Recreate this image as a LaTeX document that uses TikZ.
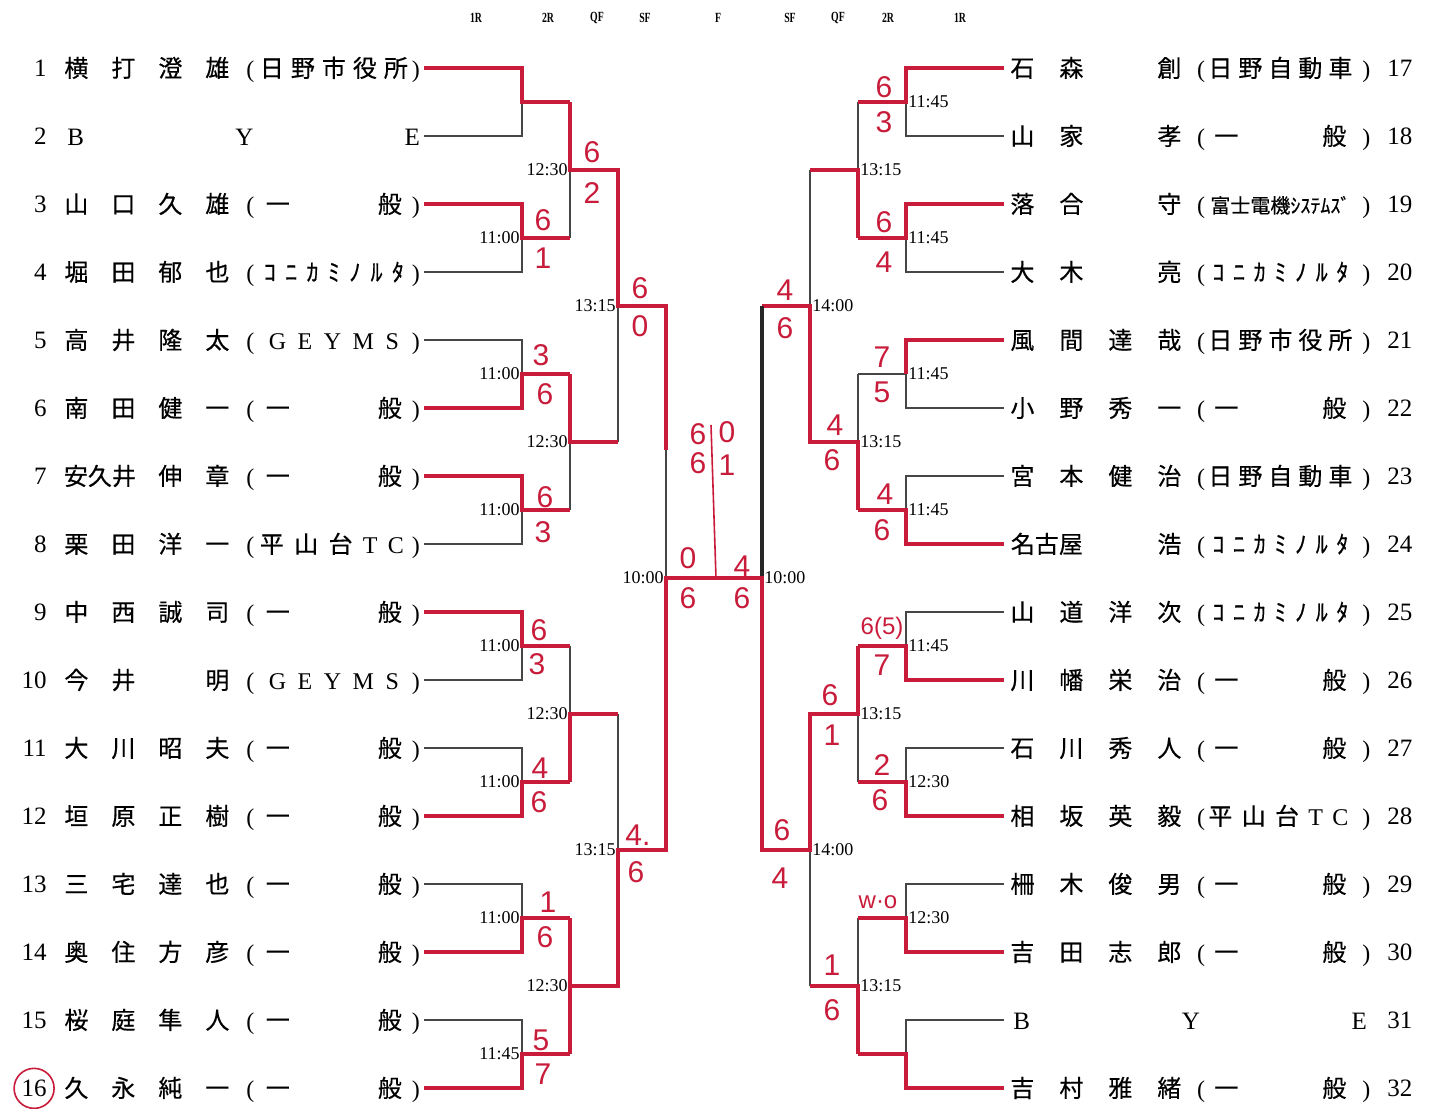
\documentclass[tikz,border=0pt]{standalone}
\usepackage{fontspec}
\setmainfont{Liberation Serif}
\newfontfamily\jpf[FakeBold=0.4]{Noto Sans CJK JP}
\newfontfamily\handf{Liberation Sans}
\definecolor{ink}{RGB}{200,28,58}
\definecolor{wirec}{RGB}{70,70,70}
% row builders (left / right)
\newcommand\Lrow[5]{\makebox[23.5pt]{#1}\makebox[23.5pt]{#2}\makebox[23.5pt]{#3}\makebox[23.5pt]{#4}\makebox[9.5pt]{\rmfamily(}\makebox[74pt][s]{#5}\makebox[8pt]{\rmfamily)}}
\newcommand\LrowW[4]{\makebox[47pt]{#1}\makebox[23.5pt]{#2}\makebox[23.5pt]{#3}\makebox[9.5pt]{\rmfamily(}\makebox[74pt][s]{#4}\makebox[8pt]{\rmfamily)}}
\newcommand\Rrow[5]{\makebox[24.5pt]{#1}\makebox[24.5pt]{#2}\makebox[24.5pt]{#3}\makebox[24.5pt]{#4}\makebox[7.25pt]{\rmfamily(}\makebox[72pt][s]{#5}\makebox[14pt]{\rmfamily)}}
\newcommand\RrowW[4]{\makebox[49pt]{#1}\makebox[24.5pt]{#2}\makebox[24.5pt]{#3}\makebox[7.25pt]{\rmfamily(}\makebox[72pt][s]{#4}\makebox[14pt]{\rmfamily)}}
% affiliations
\newcommand\ippan{\hspace{3pt}一\hfill 般\hspace{3pt}}
\newcommand\geyms{\hspace{4.5pt}{\rmfamily G\hfill E\hfill Y\hfill M\hfill S}\hspace{4.5pt}}
\newcommand\konica{\hspace{2pt}ｺ\hfill ﾆ\hfill ｶ\hfill ﾐ\hfill ﾉ\hfill ﾙ\hfill ﾀ\hspace{2pt}}
\newcommand\hino{日\hfill 野\hfill 市\hfill 役\hfill 所}
\newcommand\hinoj{日\hfill 野\hfill 自\hfill 動\hfill 車}
\newcommand\hira{平\hfill 山\hfill 台\hfill {\rmfamily T}\hfill {\rmfamily C}\hspace{2pt}}
\newcommand\fuji{\hfill{\fontsize{10}{10}\selectfont 富士電機ｼｽﾃﾑｽﾞ}\hfill}
\begin{document}
\begin{tikzpicture}[x=0.5pt,y=-0.5pt,
  wire/.style={draw=wirec,line width=0.6pt},
  win/.style={draw=ink,line width=1.7pt},
  blackthick/.style={draw=black!85,line width=2.4pt},
  inkthin/.style={draw=ink,line width=0.8pt},
  rowtext/.style={font=\jpf\fontsize{12}{14}\selectfont,inner sep=0pt,anchor=base west},
  numl/.style={font=\fontsize{12.5}{14}\selectfont,inner sep=0pt,anchor=base east},
  numr/.style={font=\fontsize{12.5}{14}\selectfont,inner sep=0pt,anchor=base west},
  timel/.style={font=\fontsize{9}{10}\selectfont,inner sep=1pt,anchor=east},
  timer/.style={font=\fontsize{9}{10}\selectfont,inner sep=1pt,anchor=west},
  score/.style={font=\handf\fontsize{15}{17}\selectfont,text=ink,inner sep=0pt},
  smallscore/.style={font=\handf\fontsize{12}{14}\selectfont,text=ink,inner sep=0pt},
  head/.style={font=\bfseries\fontsize{7}{8}\selectfont,inner sep=0pt}]
\fill[white] (0,0) rectangle (1431,1109);
\useasboundingbox (0,0) rectangle (1431,1109);

% ---------- coordinates ----------
\foreach \i in {1,...,16}{
  \pgfmathsetmacro\yy{68*\i}
  \coordinate (L0-\i) at (424,\yy);
  \coordinate (R0-\i) at (1004,\yy);
}
\foreach \k in {1,...,8}{
  \pgfmathsetmacro\yy{136*\k-34}
  \coordinate (LA-\k) at (522,\yy); \coordinate (LB-\k) at (570,\yy);
  \coordinate (RA-\k) at (906,\yy); \coordinate (RB-\k) at (858,\yy);
}
\foreach \m in {1,...,4}{
  \pgfmathsetmacro\yy{272*\m-102}
  \coordinate (LC-\m) at (570,\yy); \coordinate (LD-\m) at (618,\yy);
  \coordinate (RC-\m) at (858,\yy); \coordinate (RD-\m) at (810,\yy);
}
\foreach \n in {1,2}{
  \pgfmathsetmacro\yy{544*\n-238}
  \coordinate (LE-\n) at (618,\yy); \coordinate (LF-\n) at (666,\yy);
  \coordinate (RE-\n) at (810,\yy); \coordinate (RF-\n) at (762,\yy);
}
\coordinate (LG) at (666,578);
\coordinate (RG) at (762,578);
\coordinate (C) at (714,578);
\coordinate (LFx) at (666,450);
\coordinate (Ct) at (711,425);
\coordinate (Cb) at (716,578);

% ---------- black bracket ----------
\foreach \k in {1,...,8}{
  \pgfmathtruncatemacro\a{2*\k-1}\pgfmathtruncatemacro\b{2*\k}
  \draw[wire] (L0-\a) -| (LA-\k) |- (L0-\b);
  \draw[wire] (LA-\k) -- (LB-\k);
  \draw[wire] (R0-\a) -| (RA-\k) |- (R0-\b);
  \draw[wire] (RA-\k) -- (RB-\k);
}
\foreach \m in {1,...,4}{
  \pgfmathtruncatemacro\a{2*\m-1}\pgfmathtruncatemacro\b{2*\m}
  \draw[wire] (LB-\a) -- (LB-\b);
  \draw[wire] (LC-\m) -- (LD-\m);
  \draw[wire] (RB-\a) -- (RB-\b);
  \draw[wire] (RC-\m) -- (RD-\m);
}
\foreach \n in {1,2}{
  \pgfmathtruncatemacro\a{2*\n-1}\pgfmathtruncatemacro\b{2*\n}
  \draw[wire] (LD-\a) -- (LD-\b);
  \draw[wire] (LE-\n) -- (LF-\n);
  \draw[wire] (RD-\a) -- (RD-\b);
  \draw[wire] (RE-\n) -- (RF-\n);
}
\draw[wire] (LF-1) -- (LF-2);
\draw[wire] (RF-1) -- (RF-2);
\draw[wire] (LG) -- (RG);

% ---------- red winner paths ----------
\foreach \w/\k in {1/1,3/2,6/3,7/4,9/5,12/6,14/7,16/8}{
  \draw[win] (L0-\w) -| (LA-\k) -- (LB-\k);
}
\foreach \w/\k in {1/1,3/2,8/4,10/5,12/6,14/7,16/8}{
  \draw[win] (R0-\w) -| (RA-\k) -- (RB-\k);
}
\draw[win] (R0-5) -| (RA-3);
\draw[win] (LB-1) -- (LC-1) -- (LD-1) -- (LE-1) -- (LF-1) -- (LFx);
\draw[win] (LB-3) -- (LC-2) -- (LD-2);
\draw[win] (LB-6) -- (LC-3) -- (LD-3);
\draw[win] (LB-7) -- (LB-8);
\draw[win] (LC-4) -- (LD-4) -- (LE-2) -- (LF-2) -- (LG) -- (C);
\draw[win] (RB-2) -- (RC-1) -- (RD-1);
\draw[win] (RB-4) -- (RC-2) -- (RD-2) -- (RE-1) -- (RF-1);
\draw[blackthick] (RF-1) -- (RG);
\draw[win] (RB-5) -- (RC-3) -- (RD-3) -- (RE-2) -- (RF-2) -- (RG) -- (C);
\draw[win] (RB-8) -- (RC-4) -- (RD-4);
\draw[inkthin] (Ct) -- (Cb);

% ---------- headers ----------
\foreach \hx/\hs [count=\n] in {476/1R,548/2R,597/QF,645/SF,718/F,790/SF,838/QF,888/2R,960/1R}{
  \node[head] (hd-\n) at (\hx,18) {\scalebox{0.7}[1]{\hs}};
}

% ---------- numbers ----------
\foreach \n/\t in {1/1,2/2,3/3,4/4,5/5,6/6,7/7,8/8,9/9,10/10,11/11,12/12,13/13,14/14,15/15,16/16}{
  \pgfmathsetmacro\yy{68*\n+8.5}
  \node[numl] (ln-\n) at (47,\yy) {\t};
}
\foreach \n/\t in {1/17,2/18,3/19,4/20,5/21,6/22,7/23,8/24,9/25,10/26,11/27,12/28,13/29,14/30,15/31,16/32}{
  \pgfmathsetmacro\yy{68*\n+8.5}
  \node[numr] (rn-\n) at (1387,\yy) {\t};
}
\draw[inkthin] (ln-16.center) circle [radius=20];

% ---------- left rows ----------
\node[rowtext] (lt-1) at (52.5,77) {\Lrow{横}{打}{澄}{雄}{\hino}};
\node[rowtext,font=\fontsize{12.5}{14}\selectfont] (lt-2) at (67,145) {\makebox[176.25pt][s]{B\hfill Y\hfill E}};
\node[rowtext] (lt-3) at (52.5,213) {\Lrow{山}{口}{久}{雄}{\ippan}};
\node[rowtext] (lt-4) at (52.5,281) {\Lrow{堀}{田}{郁}{也}{\konica}};
\node[rowtext] (lt-5) at (52.5,349) {\Lrow{高}{井}{隆}{太}{\geyms}};
\node[rowtext] (lt-6) at (52.5,417) {\Lrow{南}{田}{健}{一}{\ippan}};
\node[rowtext] (lt-7) at (52.5,485) {\LrowW{安久井}{伸}{章}{\ippan}};
\node[rowtext] (lt-8) at (52.5,553) {\Lrow{栗}{田}{洋}{一}{\hira}};
\node[rowtext] (lt-9) at (52.5,621) {\Lrow{中}{西}{誠}{司}{\ippan}};
\node[rowtext] (lt-10) at (52.5,689) {\Lrow{今}{井}{}{明}{\geyms}};
\node[rowtext] (lt-11) at (52.5,757) {\Lrow{大}{川}{昭}{夫}{\ippan}};
\node[rowtext] (lt-12) at (52.5,825) {\Lrow{垣}{原}{正}{樹}{\ippan}};
\node[rowtext] (lt-13) at (52.5,893) {\Lrow{三}{宅}{達}{也}{\ippan}};
\node[rowtext] (lt-14) at (52.5,961) {\Lrow{奥}{住}{方}{彦}{\ippan}};
\node[rowtext] (lt-15) at (52.5,1029) {\Lrow{桜}{庭}{隼}{人}{\ippan}};
\node[rowtext] (lt-16) at (52.5,1097) {\Lrow{久}{永}{純}{一}{\ippan}};

% ---------- right rows ----------
\node[rowtext] (rt-1) at (997.5,77) {\Rrow{石}{森}{}{創}{\hinoj}};
\node[rowtext] (rt-2) at (997.5,145) {\Rrow{山}{家}{}{孝}{\ippan}};
\node[rowtext] (rt-3) at (997.5,213) {\Rrow{落}{合}{}{守}{\fuji}};
\node[rowtext] (rt-4) at (997.5,281) {\Rrow{大}{木}{}{亮}{\konica}};
\node[rowtext] (rt-5) at (997.5,349) {\Rrow{風}{間}{達}{哉}{\hino}};
\node[rowtext] (rt-6) at (997.5,417) {\Rrow{小}{野}{秀}{一}{\ippan}};
\node[rowtext] (rt-7) at (997.5,485) {\Rrow{宮}{本}{健}{治}{\hinoj}};
\node[rowtext] (rt-8) at (997.5,553) {\RrowW{名古屋}{}{浩}{\konica}};
\node[rowtext] (rt-9) at (997.5,621) {\Rrow{山}{道}{洋}{次}{\konica}};
\node[rowtext] (rt-10) at (997.5,689) {\Rrow{川}{幡}{栄}{治}{\ippan}};
\node[rowtext] (rt-11) at (997.5,757) {\Rrow{石}{川}{秀}{人}{\ippan}};
\node[rowtext] (rt-12) at (997.5,825) {\Rrow{相}{坂}{英}{毅}{\hira}};
\node[rowtext] (rt-13) at (997.5,893) {\Rrow{柵}{木}{俊}{男}{\ippan}};
\node[rowtext] (rt-14) at (997.5,961) {\Rrow{吉}{田}{志}{郎}{\ippan}};
\node[rowtext,font=\fontsize{12.5}{14}\selectfont] (rt-15) at (1013,1029) {\makebox[176.75pt][s]{B\hfill Y\hfill E}};
\node[rowtext] (rt-16) at (997.5,1097) {\Rrow{吉}{村}{雅}{緒}{\ippan}};

% ---------- times ----------
\foreach \k/\t in {2/11:00,3/11:00,4/11:00,5/11:00,6/11:00,7/11:00,8/11:45}{
  \node[timel] (tla-\k) at (LA-\k) {\t};
}
\foreach \m in {1,...,4}{\node[timel] (tlc-\m) at (LC-\m) {12:30};}
\foreach \n in {1,2}{\node[timel] (tle-\n) at (LE-\n) {13:15};}
\node[timel] (tlg) at (LG) {10:00};
\foreach \k/\t in {1/11:45,2/11:45,3/11:45,4/11:45,5/11:45,6/12:30,7/12:30}{
  \node[timer] (tra-\k) at (RA-\k) {\t};
}
\foreach \m in {1,...,4}{\node[timer] (trc-\m) at (RC-\m) {13:15};}
\foreach \n in {1,2}{\node[timer] (tre-\n) at (RE-\n) {14:00};}
\node[timer] (trg) at (RG) {10:00};

% ---------- handwritten scores ----------
\foreach \px/\py/\t [count=\n] in {
  543/220/6, 543/258/1, 541/355/3, 545/394/6, 545/497/6, 543/532/3,
  539/630/6, 537/664/3, 540/768/4, 539/802/6, 548/902/1, 545/937/6,
  541/1040/5, 543/1074/7, 592/152/6, 592/193/2, 640/288/6, 640/326/0,
  638/835/4., 636/872/6, 688/558/0, 688/598/6, 742/566/4, 742/598/6,
  698/434/6, 698/463/6, 727/432/0, 727/465/1,
  884/87/6, 884/122/3, 884/222/6, 884/262/4, 882/357/7, 882/392/5,
  885/494/4, 882/530/6, 882/665/7, 882/765/2, 880/800/6,
  835/425/4, 832/460/6, 830/695/6, 832/735/1, 832/965/1,
  832/1010/6, 785/290/4, 785/328/6, 782/830/6, 780/878/4}{
  \node[score] (sc-\n) at (\px,\py) {\t};
}
\node[smallscore] (sc-a) at (882,628) {6(5)};
\node[smallscore] (sc-b) at (878,902) {w·o};
\end{tikzpicture}
\end{document}
